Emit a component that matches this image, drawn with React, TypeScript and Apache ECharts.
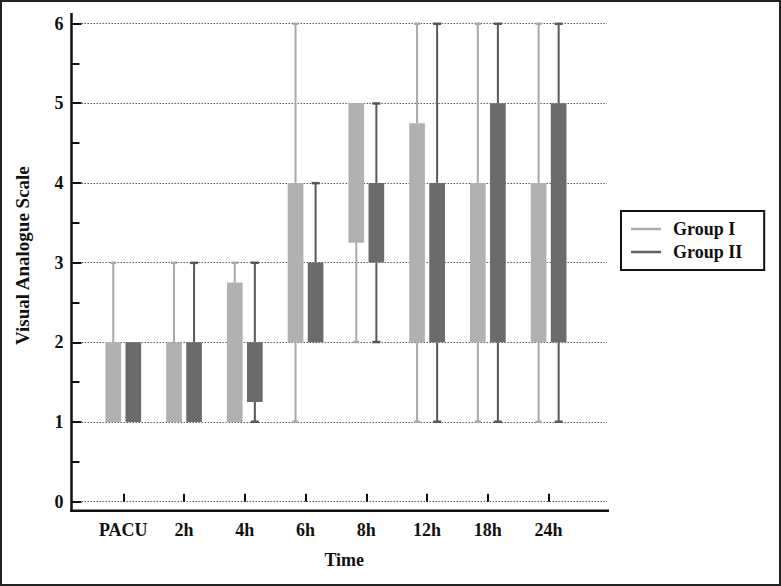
import React, { useEffect, useRef } from 'react';
import * as echarts from 'echarts';

const categories = ['PACU', '2h', '4h', '6h', '8h', '12h', '18h', '24h'];

// Group I box-plot values (min, lower quartile, upper quartile, max)
const g1Min = [1, 1, 1, 1, 2, 1, 1, 1];
const g1Q1 = [1, 1, 1, 2, 3.25, 2, 2, 2];
const g1Q3 = [2, 2, 2.75, 4, 5, 4.75, 4, 4];
const g1Max = [3, 3, 3, 6, 5, 6, 6, 6];

// Group II box-plot values
const g2Min = [1, 1, 1, 2, 2, 1, 1, 1];
const g2Q1 = [1, 1, 1.25, 2, 3, 2, 2, 2];
const g2Q3 = [2, 2, 2, 3, 4, 4, 5, 5];
const g2Max = [2, 3, 3, 4, 5, 6, 6, 6];

const seriesNames = ['Group I', 'Group II'];
const yMin = 0;
const yMax = 6;
const yInterval = 1;
const yMinorInterval = 0.5;

const FONT = "'Liberation Serif', 'DejaVu Serif', 'Times New Roman', serif";

export default function App() {
  const ref = useRef<HTMLDivElement>(null);

  useEffect(() => {
    document.body.style.margin = '0';
    const chart = echarts.init(ref.current!, null, { renderer: 'svg' });

    const axisX = 71.5; // y-axis line
    const plotLeft = 81.5; // start of the grid lines
    const plotRight = 607;
    const plotTop = 23.5;
    const plotBottom = 501.7; // value 0
    const axisY = 510.7; // x-axis line
    const catLeft = 92.9;
    const catRight = 579;
    const W = 781;
    const H = 586;
    const unitPx = (plotBottom - plotTop) / (yMax - yMin);
    const catYMin = yMin - (axisY - plotBottom) / unitPx;

    const build = (mins: number[], q1: number[], q3: number[], maxs: number[]) =>
      categories.map((_, i) => [i, mins[i], q1[i], q3[i], maxs[i]]);

    const makeRender =
      (side: number, fill: string, stroke: string, capW: number) => (params: any, api: any) => {
        const cat = api.value(0);
        const vMin = api.value(1);
        const vQ1 = api.value(2);
        const vQ3 = api.value(3);
        const vMax = api.value(4);
        const band = api.size([1, 0])[0];
        const cx = api.coord([cat, 0])[0] + side * band * 0.165;
        const w = band * 0.258;
        const pMin = api.coord([cat, vMin])[1];
        const pQ1 = api.coord([cat, vQ1])[1];
        const pQ3 = api.coord([cat, vQ3])[1];
        const pMax = api.coord([cat, vMax])[1];
        const children: any[] = [];
        if (vMax > vQ3) {
          children.push({
            type: 'line',
            shape: { x1: cx, y1: pMax, x2: cx, y2: pQ3 },
            style: { stroke, lineWidth: 2 },
          });
          children.push({
            type: 'rect',
            shape: { x: cx - capW / 2, y: pMax - 1, width: capW, height: 2.5 },
            style: { fill: stroke },
          });
        }
        if (vMin < vQ1) {
          children.push({
            type: 'line',
            shape: { x1: cx, y1: pQ1, x2: cx, y2: pMin },
            style: { stroke, lineWidth: 2 },
          });
          children.push({
            type: 'rect',
            shape: { x: cx - capW / 2, y: pMin - 1.5, width: capW, height: 2.5 },
            style: { fill: stroke },
          });
        }
        children.push({
          type: 'rect',
          shape: { x: cx - w / 2, y: pQ3, width: w, height: pQ1 - pQ3 },
          style: { fill },
        });
        return { type: 'group', children };
      };

    const labelStyle = { fontFamily: FONT, fontWeight: 'bold', fontSize: 18, color: '#111' };
    const hiddenX = (gridIndex: number, extra: any = {}) => ({
      gridIndex,
      type: 'value',
      min: 0,
      max: 1,
      axisLine: { show: false },
      axisTick: { show: false },
      axisLabel: { show: false },
      splitLine: { show: false },
      ...extra,
    });

    const option: any = {
      animation: false,
      backgroundColor: '#fff',
      grid: [
        // 0: y-axis ticks and labels
        { left: axisX, top: plotTop, width: plotRight - axisX, height: plotBottom - plotTop },
        // 1: category axis and boxes
        { left: catLeft, top: plotTop, width: catRight - catLeft, height: axisY - plotTop },
        // 2: dotted grid lines
        { left: plotLeft, top: plotTop, width: plotRight - plotLeft, height: plotBottom - plotTop },
      ],
      xAxis: [
        hiddenX(0),
        {
          gridIndex: 1,
          type: 'category',
          data: categories,
          axisLine: { show: false },
          axisTick: {
            show: true,
            inside: true,
            length: 8,
            interval: 0,
            alignWithLabel: true,
            lineStyle: { color: '#111', width: 2 },
          },
          axisLabel: { ...labelStyle, margin: 10, interval: 0 },
          splitLine: { show: false },
        },
        hiddenX(2, {
          name: 'Time',
          nameLocation: 'middle',
          nameGap: 49,
          nameTextStyle: { ...labelStyle },
        }),
      ],
      yAxis: [
        {
          gridIndex: 0,
          position: 'left',
          type: 'value',
          min: yMin,
          max: yMax,
          interval: yMinorInterval,
          axisLine: { show: false },
          axisTick: { show: true, inside: true, length: 8, lineStyle: { color: '#111', width: 2 } },
          axisLabel: { show: false },
          splitLine: { show: false },
        },
        {
          gridIndex: 0,
          position: 'left',
          type: 'value',
          min: yMin,
          max: yMax,
          interval: yInterval,
          axisLine: { show: false },
          axisTick: { show: true, inside: true, length: 10, lineStyle: { color: '#111', width: 2 } },
          axisLabel: { ...labelStyle, margin: 8 },
          splitLine: { show: false },
          name: 'Visual Analogue Scale',
          nameLocation: 'middle',
          nameGap: 40,
          nameTextStyle: { ...labelStyle, fontSize: 19, padding: [0, 0, 0, 14] },
        },
        {
          gridIndex: 1,
          type: 'value',
          min: catYMin,
          max: yMax,
          show: false,
        },
        {
          gridIndex: 2,
          position: 'left',
          type: 'value',
          min: yMin,
          max: yMax,
          interval: yInterval,
          axisLine: { show: false },
          axisTick: { show: false },
          axisLabel: { show: false },
          splitLine: { show: true, lineStyle: { type: [1.5, 1.5], color: '#5c5c5c', width: 1 } },
        },
      ],
      legend: {
        orient: 'vertical',
        left: 621,
        top: 211,
        selectedMode: false,
        data: [
          { name: seriesNames[0], icon: 'rect' },
          { name: seriesNames[1], icon: 'rect' },
        ],
        itemWidth: 30,
        itemHeight: 2.5,
        itemGap: 5,
        borderColor: '#111',
        borderWidth: 2,
        borderRadius: 0,
        padding: [9, 22, 9, 10],
        textStyle: { ...labelStyle, padding: [0, 0, 0, 7] },
      },
      series: [
        {
          name: seriesNames[0],
          type: 'custom',
          xAxisIndex: 1,
          yAxisIndex: 2,
          itemStyle: { color: '#acacac' },
          encode: { x: 0, y: [1, 2, 3, 4] },
          renderItem: makeRender(-1, '#b1b1b1', '#a9a9a9', 6),
          data: build(g1Min, g1Q1, g1Q3, g1Max),
        },
        {
          name: seriesNames[1],
          type: 'custom',
          xAxisIndex: 1,
          yAxisIndex: 2,
          itemStyle: { color: '#626262' },
          encode: { x: 0, y: [1, 2, 3, 4] },
          renderItem: makeRender(1, '#6b6b6b', '#585858', 8),
          data: build(g2Min, g2Q1, g2Q3, g2Max),
        },
      ],
      graphic: [
        {
          type: 'rect',
          silent: true,
          shape: { x: 1, y: 1, width: W - 2, height: H - 2 },
          style: { fill: 'none', stroke: '#222', lineWidth: 2 },
        },
        {
          type: 'line',
          silent: true,
          shape: { x1: axisX, y1: 13, x2: axisX, y2: axisY + 1.2 },
          style: { stroke: '#111', lineWidth: 2.5 },
        },
        {
          type: 'line',
          silent: true,
          shape: { x1: axisX - 1.2, y1: axisY, x2: 609, y2: axisY },
          style: { stroke: '#111', lineWidth: 2.5 },
        },
      ],
    };

    chart.setOption(option);
    return () => chart.dispose();
  }, []);

  return <div ref={ref} style={{ width: 781, height: 586 }} />;
}
